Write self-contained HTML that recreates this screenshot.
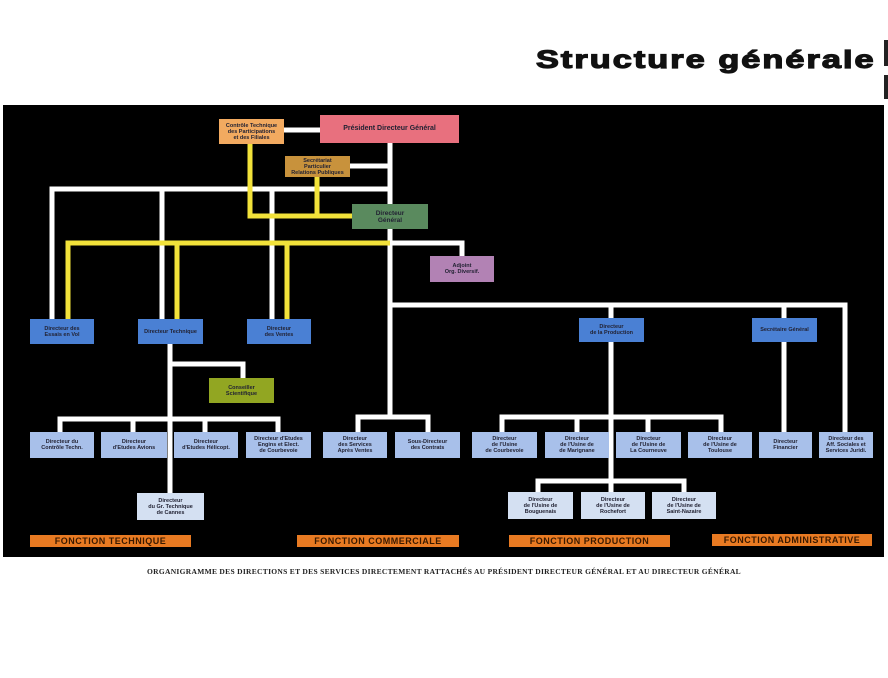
<!DOCTYPE html>
<html><head><meta charset="utf-8"><style>
html,body{margin:0;padding:0;background:#fff;}
body{width:888px;height:678px;position:relative;overflow:hidden;font-family:"Liberation Sans",sans-serif;}
.t{position:absolute;left:536px;top:46px;font:bold 25px "Liberation Sans",sans-serif;letter-spacing:1.5px;color:#111;transform:scaleX(1.37);transform-origin:left top;-webkit-text-stroke:1.2px #111;white-space:nowrap;}
.n{position:absolute;display:flex;align-items:center;justify-content:center;text-align:center;font-size:5.5px;line-height:6px;font-weight:bold;color:#223;}
.b{background:#4a80d4;}
.l{background:#a8c0ea;}
.v{background:#d4e0f2;}
.f{position:absolute;height:12px;background:#e87a22;color:#3a1a00;font:bold 9px "Liberation Sans",sans-serif;text-align:center;line-height:12px;letter-spacing:0.5px;}
.cap{position:absolute;left:0;width:888px;top:567px;text-align:center;font:bold 7.5px "Liberation Serif",serif;color:#222;letter-spacing:0.3px;}
</style></head><body>
<div class="t">Structure générale</div>
<div style="position:absolute;left:884px;top:40px;width:4px;height:26px;background:#222"></div>
<div style="position:absolute;left:884px;top:75px;width:4px;height:24px;background:#222"></div>
<div style="position:absolute;left:3px;top:105px;width:881px;height:452px;background:#000"></div>
<svg style="position:absolute;left:0;top:0" width="888" height="678">
<g stroke="#fff" stroke-width="5" fill="none" stroke-linecap="square">
<path d="M284 130H320M390 143V415M350 166H390M52 319V189H390M162 189V319M272 189V319M390 243H462V256M393 305H845V432M611 305V318M784 305V432M611 342V492M502 432V417H721V432M577 417V432M648 417V432M538 492V481H684V492M170 344V493M170 364H243V378M60 432V419H278V432M133 419V432M205 419V432M358 432V417H428V432"/>
</g>
<g stroke="#f2e23a" stroke-width="5" fill="none">
<path d="M250 144V216H352M317 177V216M68 319V243H390M177 243V319M287 243V319"/>
</g>
</svg>
<div class="n" style="left:219px;top:119px;width:65px;height:25px;background:#f2aa60">Contrôle Technique<br>des Participations<br>et des Filiales</div>
<div class="n" style="left:320px;top:115px;width:139px;height:28px;background:#e8707e;font-size:7px">Président Directeur Général</div>
<div class="n" style="left:285px;top:156px;width:65px;height:21px;background:#c8923c">Secrétariat<br>Particulier<br>Relations Publiques</div>
<div class="n" style="left:352px;top:204px;width:76px;height:25px;background:#5a8a5e;font-size:6.5px;line-height:7px">Directeur<br>Général</div>
<div class="n" style="left:430px;top:256px;width:64px;height:26px;background:#b282b4">Adjoint<br>Org. Diversif.</div>
<div class="n b" style="left:30px;top:319px;width:64px;height:25px">Directeur des<br>Essais en Vol</div>
<div class="n b" style="left:138px;top:319px;width:65px;height:25px">Directeur Technique</div>
<div class="n b" style="left:247px;top:319px;width:64px;height:25px">Directeur<br>des Ventes</div>
<div class="n b" style="left:579px;top:318px;width:65px;height:24px">Directeur<br>de la Production</div>
<div class="n b" style="left:752px;top:318px;width:65px;height:24px">Secrétaire Général</div>
<div class="n" style="left:209px;top:378px;width:65px;height:25px;background:#92a622">Conseiller<br>Scientifique</div>
<div class="n l" style="left:30px;top:432px;width:64px;height:26px">Directeur du<br>Contrôle Techn.</div>
<div class="n l" style="left:101px;top:432px;width:66px;height:26px">Directeur<br>d'Etudes Avions</div>
<div class="n l" style="left:174px;top:432px;width:64px;height:26px">Directeur<br>d'Etudes Hélicopt.</div>
<div class="n l" style="left:246px;top:432px;width:65px;height:26px">Directeur d'Etudes<br>Engins et Elect.<br>de Courbevoie</div>
<div class="n l" style="left:323px;top:432px;width:64px;height:26px">Directeur<br>des Services<br>Après Ventes</div>
<div class="n l" style="left:395px;top:432px;width:65px;height:26px">Sous-Directeur<br>des Contrats</div>
<div class="n l" style="left:472px;top:432px;width:65px;height:26px">Directeur<br>de l'Usine<br>de Courbevoie</div>
<div class="n l" style="left:545px;top:432px;width:64px;height:26px">Directeur<br>de l'Usine de<br>de Marignane</div>
<div class="n l" style="left:616px;top:432px;width:65px;height:26px">Directeur<br>de l'Usine de<br>La Courneuve</div>
<div class="n l" style="left:688px;top:432px;width:64px;height:26px">Directeur<br>de l'Usine de<br>Toulouse</div>
<div class="n l" style="left:759px;top:432px;width:53px;height:26px">Directeur<br>Financier</div>
<div class="n l" style="left:819px;top:432px;width:54px;height:26px">Directeur des<br>Aff. Sociales et<br>Services Juridi.</div>
<div class="n v" style="left:137px;top:493px;width:67px;height:27px">Directeur<br>du Gr. Technique<br>de Cannes</div>
<div class="n v" style="left:508px;top:492px;width:65px;height:27px">Directeur<br>de l'Usine de<br>Bouguenais</div>
<div class="n v" style="left:581px;top:492px;width:64px;height:27px">Directeur<br>de l'Usine de<br>Rochefort</div>
<div class="n v" style="left:652px;top:492px;width:64px;height:27px">Directeur<br>de l'Usine de<br>Saint-Nazaire</div>
<div class="f" style="left:30px;top:535px;width:161px">FONCTION TECHNIQUE</div>
<div class="f" style="left:297px;top:535px;width:162px">FONCTION COMMERCIALE</div>
<div class="f" style="left:509px;top:535px;width:161px">FONCTION PRODUCTION</div>
<div class="f" style="left:712px;top:534px;width:160px">FONCTION ADMINISTRATIVE</div>
<div class="cap">ORGANIGRAMME DES DIRECTIONS ET DES SERVICES DIRECTEMENT RATTACHÉS AU PRÉSIDENT DIRECTEUR GÉNÉRAL ET AU DIRECTEUR GÉNÉRAL</div>
</body></html>
